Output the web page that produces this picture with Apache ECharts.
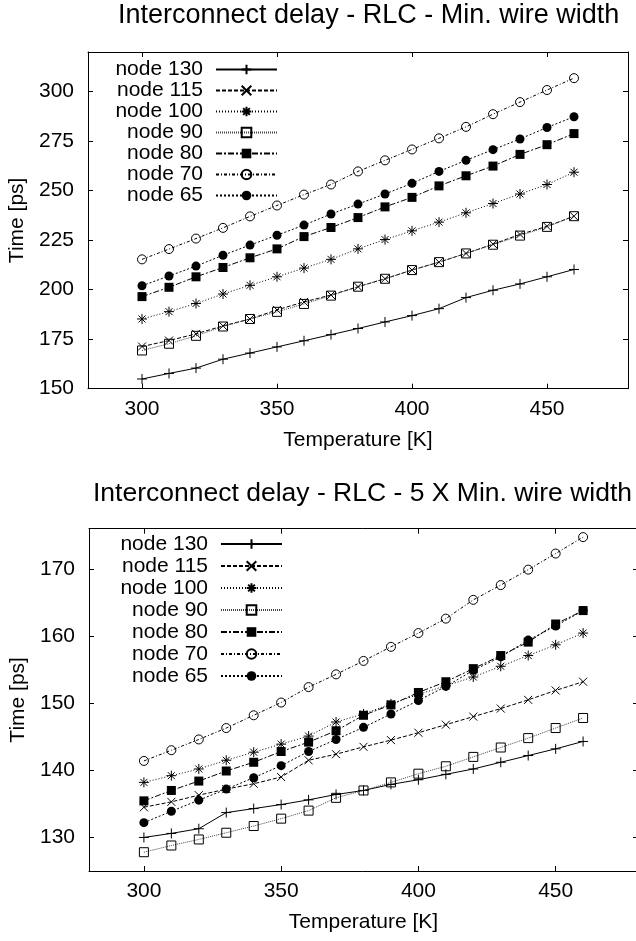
<!DOCTYPE html>
<html><head><meta charset="utf-8">
<script src="https://cdn.jsdelivr.net/npm/echarts@6/dist/echarts.min.js"></script>
<style>html,body{margin:0;padding:0;background:#fff}#c{width:636px;height:941px}</style>
</head><body><div id="c"></div>
<script>
// ---- data ----
const temps = [300,310,320,330,340,350,360,370,380,390,400,410,420,430,440,450,460];
const seriesNames = ['node 130','node 115','node 100','node 90','node 80','node 70','node 65'];

// Min. wire width
const top130 = [154.9,157.7,160.4,164.9,168.0,171.1,174.2,177.3,180.4,183.7,186.9,190.4,196.0,199.7,202.9,206.5,210.2];
const top115 = [171.3,174.3,177.7,181.7,185.2,189.8,193.8,197.3,201.5,205.5,209.9,213.9,218.3,223.0,227.9,232.0,237.1];
const top100 = [185.2,188.9,193.0,197.8,202.2,206.5,210.9,215.3,220.6,225.3,229.7,234.1,238.8,243.5,248.3,253.1,259.3];
const top90  = [169.3,172.7,176.7,181.4,185.2,188.8,192.8,197.0,201.5,205.5,209.9,213.9,218.3,222.7,227.3,231.7,237.1];
const top80  = [196.5,201.2,206.5,211.2,216.1,220.6,226.8,231.4,236.4,241.8,246.6,252.4,257.5,262.4,268.3,273.2,278.8];
const top70  = [215.3,220.5,225.8,231.2,237.0,242.5,248.0,253.1,259.7,265.3,270.8,276.4,282.2,288.6,294.7,300.8,306.8];
const top65  = [202.0,206.9,211.9,217.4,222.5,227.5,232.6,238.2,243.2,248.3,253.7,259.7,265.3,270.7,276.1,281.9,287.3];

// 5 X Min. wire width
const bot130 = [130.0,130.6,131.3,133.7,134.3,134.9,135.6,136.4,137.0,137.9,138.6,139.4,140.2,141.2,142.2,143.2,144.3];
const bot115 = [134.5,135.3,136.3,137.2,138.0,139.0,141.5,142.4,143.5,144.5,145.6,146.8,148.0,149.2,150.5,151.9,153.2];
const bot100 = [138.2,139.2,140.2,141.5,142.7,143.9,145.1,147.2,148.4,149.9,151.3,152.6,153.9,155.5,157.1,158.7,160.45];
const bot90  = [127.8,128.8,129.7,130.7,131.7,132.8,134.0,135.9,137.0,138.2,139.5,140.6,142.0,143.4,144.8,146.3,147.8];
const bot80  = [135.45,137.0,138.4,139.9,141.2,142.8,144.2,145.9,148.2,149.75,151.6,153.2,155.15,157.1,159.1,161.8,163.8];
const bot70  = [141.4,143.0,144.6,146.3,148.2,150.1,152.4,154.3,156.3,158.4,160.45,162.6,165.4,167.6,169.9,172.3,174.75];
const bot65  = [132.2,133.9,135.55,137.2,138.9,140.7,142.8,144.6,146.4,148.4,150.4,152.5,154.9,156.9,159.4,161.5,163.8];

const xTicks = [300,350,400,450];
const yTicksTop = [150,175,200,225,250,275,300];
const yTicksBottom = [130,140,150,160,170];
const titleTop = 'Interconnect delay - RLC - Min. wire width';
const titleBottom = 'Interconnect delay - RLC - 5 X Min. wire width';
const xName = 'Temperature [K]';
const yName = 'Time [ps]';

// ---- styles ----
const FONT = '"Liberation Sans", Arial, Helvetica, sans-serif';
const styles = [
  {symbol:'path://M0,5L10,5M5,0L5,10', size:10, fill:'none', dash:'solid'},
  {symbol:'path://M0,0L10,10M0,10L10,0', size:8, fill:'none', dash:[4,2]},
  {symbol:'path://M0,5L10,5M5,0L5,10M1.5,1.5L8.5,8.5M1.5,8.5L8.5,1.5', size:10, fill:'none', dash:[1,2]},
  {symbol:'path://M0,0L10,0L10,10L0,10Z', size:9, fill:'none', dash:[1,1], lc:'#444'},
  {symbol:'rect', size:9, fill:'#000', dash:[6,2,2,2]},
  {symbol:'circle', size:9, fill:'none', dash:[3,2,1,2]},
  {symbol:'circle', size:9, fill:'#000', dash:[2,2]}
];

function mkSeries(datasets, axisIdx) {
  return datasets.map((vals, k) => {
    const s = styles[k];
    return {
      type:'line', name: seriesNames[k], xAxisIndex: axisIdx, yAxisIndex: axisIdx,
      data: temps.map((t,i) => [t, vals[i]]),
      symbol: s.symbol, symbolSize: s.size, showSymbol: true,
      lineStyle: {color: s.lc || '#000', width: 1, type: s.dash},
      itemStyle: {color: s.fill, borderColor:'#000', borderWidth: s.fill === 'none' ? 1 : 0},
      emphasis: {disabled: true}, silent: true, z: 2 + k
    };
  });
}

const tickStyle = {color:'#000', width:1};
function xAxes(gi, xn) {
  return [
    {gridIndex: gi, type:'value', min:280, max:480, position:'bottom',
     axisLine:{show:true, onZero:false, lineStyle:tickStyle},
     axisTick:{show:true, inside:true, length:5, customValues:xTicks, lineStyle:tickStyle},
     axisLabel:{customValues:xTicks, fontSize:21, color:'#000', fontFamily:FONT, margin:10},
     splitLine:{show:false},
     name: xn, nameLocation:'middle', nameGap:41,
     nameTextStyle:{fontSize:21, color:'#000', fontFamily:FONT}},
    {gridIndex: gi, type:'value', min:280, max:480, position:'top',
     axisLine:{show:true, onZero:false, lineStyle:tickStyle},
     axisTick:{show:true, inside:true, length:5, customValues:xTicks, lineStyle:tickStyle},
     axisLabel:{show:false}, splitLine:{show:false}}
  ];
}
function yAxes(gi, mn, mx, ticks) {
  return [
    {gridIndex: gi, type:'value', min:mn, max:mx, position:'left',
     axisLine:{show:true, onZero:false, lineStyle:tickStyle},
     axisTick:{show:true, inside:true, length:5, customValues:ticks, lineStyle:tickStyle},
     axisLabel:{customValues:ticks, fontSize:21, color:'#000', fontFamily:FONT, margin:14},
     splitLine:{show:false},
     name: yName, nameLocation:'middle', nameGap:54, nameRotate:90,
     nameTextStyle:{fontSize:21, color:'#000', fontFamily:FONT}},
    {gridIndex: gi, type:'value', min:mn, max:mx, position:'right',
     axisLine:{show:true, onZero:false, lineStyle:tickStyle},
     axisTick:{show:true, inside:true, length:5, customValues:ticks, lineStyle:tickStyle},
     axisLabel:{show:false}, splitLine:{show:false}}
  ];
}

const legendBase = {
  orient:'vertical', align:'right', itemWidth:61, itemHeight:12, itemGap:0, padding:0,
  selectedMode:false, data: seriesNames,
  textStyle:{fontSize:21, color:'#000', fontFamily:FONT, padding:[0,8,0,0]}
};

const chart = echarts.init(document.getElementById('c'), null, {renderer:'canvas'});
chart.setOption({
  animation:false,
  backgroundColor:'#fff',
  title:[
    {text:titleTop, left:118, top:2, padding:0, textStyle:{fontSize:27, fontWeight:'normal', color:'#000', fontFamily:FONT}},
    {text:titleBottom, left:93, top:480, padding:0, textStyle:{fontSize:26.5, fontWeight:'normal', color:'#000', fontFamily:FONT}}
  ],
  legend:[
    Object.assign({}, legendBase, {right:358, top:59, textStyle:Object.assign({}, legendBase.textStyle, {lineHeight:20.7})}),
    Object.assign({}, legendBase, {right:353, top:533, textStyle:Object.assign({}, legendBase.textStyle, {lineHeight:22})})
  ],
  grid:[
    {left:88, right:8, top:52, bottom:552.3, containLabel:false, outerBoundsMode:'none'},
    {left:89, right:-2, top:528.7, bottom:70, containLabel:false, outerBoundsMode:'none'}
  ],
  xAxis: xAxes(0, xName).concat(xAxes(1, xName)),
  yAxis: yAxes(0, 150, 320, yTicksTop).concat(yAxes(1, 125, 176, yTicksBottom)),
  series: mkSeries([top130, top115, top100, top90, top80, top70, top65], 0)
    .concat(mkSeries([bot130, bot115, bot100, bot90, bot80, bot70, bot65], 2))
});
</script></body></html>
